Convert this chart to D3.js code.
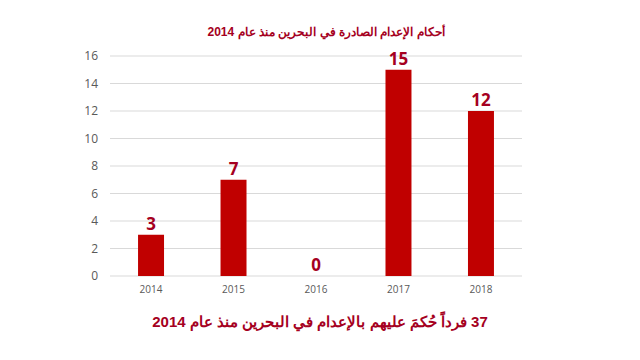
<!DOCTYPE html>
<html><head><meta charset="utf-8">
<script src="https://cdn.jsdelivr.net/npm/d3@7"></script>
<style>body{margin:0;background:#fff}svg{display:block}</style>
</head><body>
<script>
const categories = ["2014","2015","2016","2017","2018"];
const values = [3,7,0,15,12];
const yTicks = [0,2,4,6,8,10,12,14,16];
const title = "أحكام الإعدام الصادرة في البحرين منذ عام 2014";
const subtitle = "37 فرداً حُكمَ عليهم بالإعدام في البحرين منذ عام 2014";

const W=640,H=360;
const svg=d3.select("body").append("svg").attr("width",W).attr("height",H);
const x=d3.scaleBand().domain(categories).range([110,522]).paddingInner(0.685).paddingOuter(0.34);
const y=d3.scaleLinear().domain([0,16]).range([276,56]);

svg.append("g").selectAll("line").data(yTicks).join("line")
  .attr("x1",110).attr("x2",522).attr("y1",d=>y(d)).attr("y2",d=>y(d))
  .attr("stroke","#d9d9d9").attr("stroke-width",1);

const ya=svg.append("g").attr("transform","translate(110,0)")
  .call(d3.axisLeft(y).tickValues(yTicks).tickSize(0).tickPadding(12));
ya.select(".domain").remove();
ya.selectAll("text").attr("font-family","'Open Sans',sans-serif").attr("font-size",12).attr("fill","#595959");

const xa=svg.append("g").attr("transform","translate(0,276)")
  .call(d3.axisBottom(x).tickSize(0).tickPadding(10));
xa.select(".domain").remove();
xa.selectAll("text").attr("font-family","'Open Sans',sans-serif").attr("font-size",10).attr("fill","#595959");

svg.append("g").selectAll("rect").data(values).join("rect")
  .attr("x",(d,i)=>x(categories[i])).attr("width",x.bandwidth())
  .attr("y",d=>y(d)).attr("height",d=>y(0)-y(d)).attr("fill","#c00000");

svg.append("g").selectAll("text").data(values).join("text")
  .attr("x",(d,i)=>x(categories[i])+x.bandwidth()/2).attr("y",d=>y(d)-5)
  .attr("text-anchor","middle").attr("font-family","'Open Sans',sans-serif")
  .attr("font-weight","bold").attr("font-size",17).attr("fill","#a50021").text(d=>d);

svg.append("text").attr("x",326).attr("y",36).attr("text-anchor","middle")
  .attr("font-family","'Liberation Sans',Arial,sans-serif").attr("font-weight","bold")
  .attr("font-size",12).attr("fill","#a50021").attr("direction","rtl").text(title);

svg.append("text").attr("x",320).attr("y",327).attr("text-anchor","middle")
  .attr("font-family","'Liberation Sans',Arial,sans-serif").attr("font-weight","bold")
  .attr("font-size",15).attr("fill","#a50021").attr("direction","rtl").text(subtitle);
</script>
</body></html>
